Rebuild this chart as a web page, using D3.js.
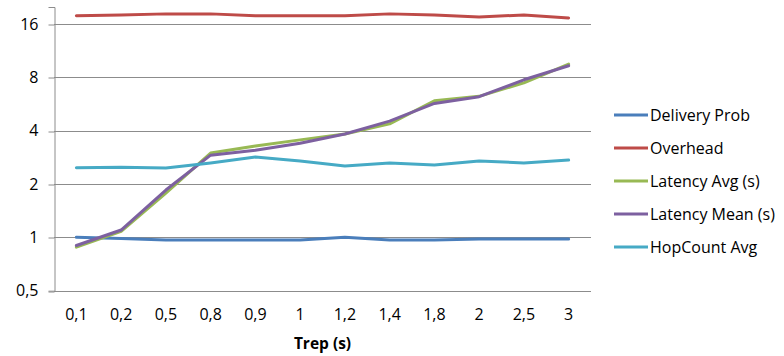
<!DOCTYPE html>
<html>
<head>
<meta charset="utf-8">
<script src="https://cdn.jsdelivr.net/npm/d3@7"></script>
<style>
  body { margin: 0; background: #fff; }
  text { font-family: "Open Sans", "Liberation Sans", sans-serif; fill: #000; }
</style>
</head>
<body>
<svg id="chart" width="784" height="356"></svg>
<script>
// Repetition interval categories
const categories = ["0,1", "0,2", "0,5", "0,8", "0,9", "1", "1,2", "1,4", "1,8", "2", "2,5", "3"];

// Series values per category
const deliveryProb = [1.00, 0.985, 0.965, 0.965, 0.965, 0.965, 1.00, 0.965, 0.965, 0.98, 0.98, 0.98];
const overhead     = [17.8, 18.0, 18.25, 18.25, 17.8, 17.8, 17.8, 18.25, 18.0, 17.5, 18.0, 17.3];
const latencyAvg   = [0.88, 1.08, 1.78, 2.99, 3.28, 3.55, 3.83, 4.37, 5.9, 6.25, 7.45, 9.5];
const latencyMean  = [0.90, 1.10, 1.85, 2.91, 3.10, 3.40, 3.83, 4.53, 5.7, 6.22, 7.75, 9.3];
const hopCountAvg  = [2.47, 2.49, 2.46, 2.63, 2.84, 2.70, 2.53, 2.63, 2.56, 2.70, 2.63, 2.73];

const yTicks = [0.5, 1, 2, 4, 8, 16];
const yTickLabels = ["0,5", "1", "2", "4", "8", "16"];

const seriesNames  = ["Delivery Prob", "Overhead", "Latency Avg (s)", "Latency Mean (s)", "HopCount Avg"];
const seriesValues = [deliveryProb, overhead, latencyAvg, latencyMean, hopCountAvg];
const seriesColors = ["#4a7ebb", "#be4b48", "#98b954", "#7d60a0", "#46aac5"];

const svg = d3.select("#chart");
const plot = { left: 54, right: 591, top: 7, bottom: 290.7 };
const octave = 53.34; // pixels per doubling

const x = d3.scaleBand().domain(categories).range([plot.left, plot.right]);
const y = d3.scaleLog().base(2)
  .domain([0.5, 0.5 * Math.pow(2, (plot.bottom - plot.top) / octave)])
  .range([plot.bottom, plot.top]);

// Horizontal gridlines
svg.append("g")
  .selectAll("line")
  .data(yTicks)
  .join("line")
  .attr("x1", plot.left).attr("x2", plot.right)
  .attr("y1", d => Math.round(y(d)) + 0.5).attr("y2", d => Math.round(y(d)) + 0.5)
  .attr("stroke", "#8c8c8c").attr("stroke-width", 1);

// Y axis
const yAxis = d3.axisLeft(y)
  .tickValues(yTicks)
  .tickFormat((d, i) => yTickLabels[i])
  .tickSize(6)
  .tickSizeOuter(6);
const gy = svg.append("g").attr("transform", `translate(${plot.left + 0.5},0)`).call(yAxis);
gy.select(".domain").attr("stroke", "#8c8c8c");
gy.selectAll(".tick line").attr("stroke", "#8c8c8c")
  .attr("transform", d => `translate(0,${Math.round(y(d)) + 0.5 - y(d)})`);
gy.selectAll(".tick text").attr("x", -16).style("font-size", "16px");

// X axis labels
const xAxis = d3.axisBottom(x).tickSize(0).tickPadding(18);
const gx = svg.append("g").attr("transform", `translate(0,${plot.bottom})`).call(xAxis);
gx.select(".domain").remove();
gx.selectAll(".tick text").style("font-size", "16px");

// Axis title
svg.append("text")
  .attr("x", (plot.left + plot.right) / 2)
  .attr("y", 349)
  .attr("text-anchor", "middle")
  .style("font-size", "15.5px")
  .style("font-weight", "bold")
  .text("Trep (s)");

// Series lines
const line = d3.line()
  .x((d, i) => x(categories[i]) + x.bandwidth() / 2)
  .y(d => y(d));

svg.append("g")
  .selectAll("path")
  .data(seriesValues)
  .join("path")
  .attr("d", d => line(d))
  .attr("fill", "none")
  .attr("stroke", (d, i) => seriesColors[i])
  .attr("stroke-width", 3)
  .attr("stroke-linejoin", "round")
  .attr("stroke-linecap", "round");

// Legend
const legend = svg.append("g").attr("transform", "translate(614,115)");
const items = legend.selectAll("g")
  .data(seriesNames)
  .join("g")
  .attr("transform", (d, i) => `translate(0,${i * 33})`);
items.append("line")
  .attr("x1", 0).attr("x2", 34)
  .attr("stroke", (d, i) => seriesColors[i])
  .attr("stroke-width", 3);
items.append("text")
  .attr("x", 36).attr("dy", "0.35em")
  .style("font-size", "16px")
  .text(d => d);
</script>
</body>
</html>
